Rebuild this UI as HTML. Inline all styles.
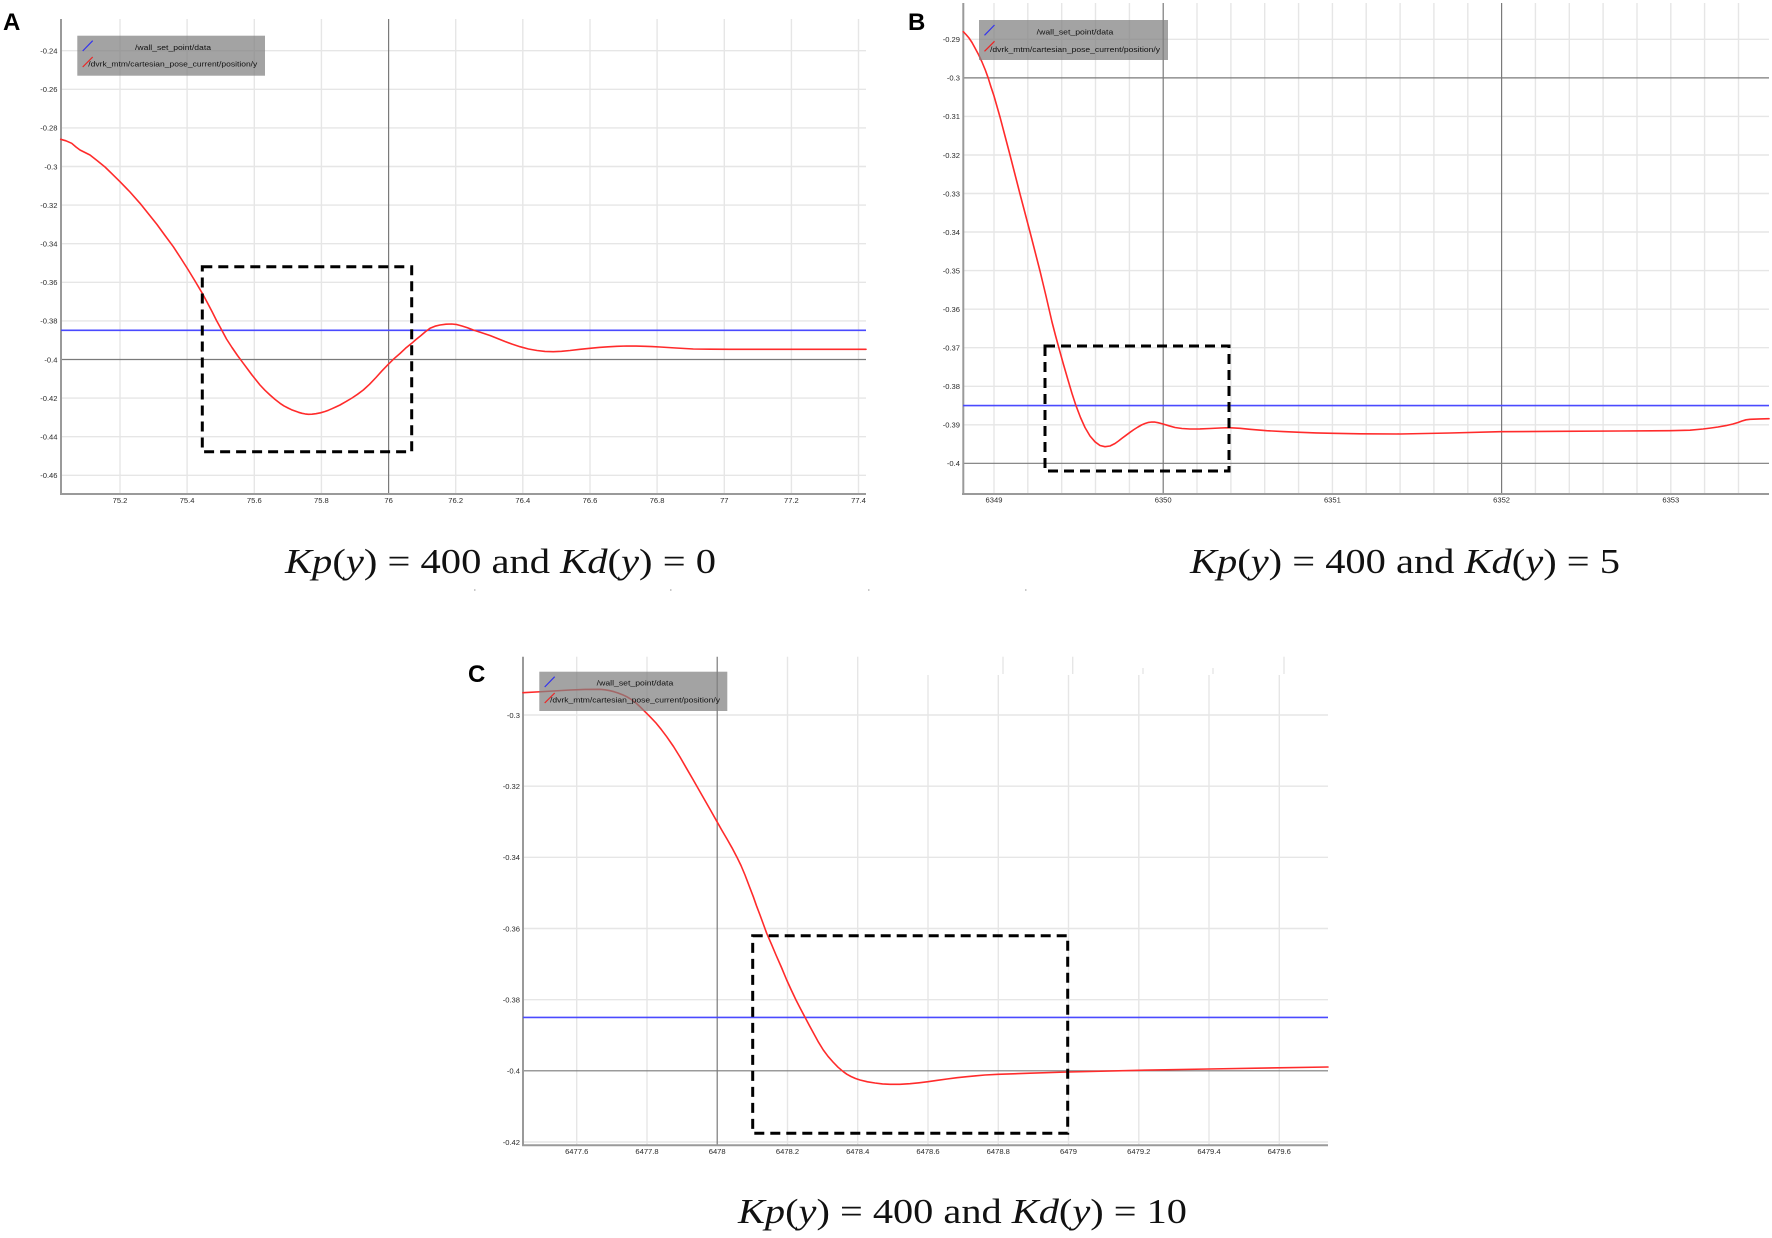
<!DOCTYPE html>
<html>
<head>
<meta charset="utf-8">
<style>
html,body{margin:0;padding:0;background:#fff;}
svg{display:block;}
.g{stroke:#e6e6e6;stroke-width:1.4;}
.d{stroke:#7a7a7a;stroke-width:1.2;}
.ax{stroke:#9a9a9a;stroke-width:2;}
.tk{font-family:"Liberation Sans",sans-serif;font-size:7.6px;fill:#2a2a2a;}
.lg{font-family:"Liberation Sans",sans-serif;font-size:7.5px;fill:#111;}
.cap{font-family:"Liberation Serif",serif;font-size:35px;fill:#111;}
.it{font-style:italic;}
.let{font-family:"Liberation Sans",sans-serif;font-weight:bold;font-size:24px;fill:#000;}
.red{fill:none;stroke:#ff2b2b;stroke-width:1.6;stroke-linejoin:round;stroke-linecap:round;}
.blue{stroke:#4a4aff;stroke-width:1.6;}
.box{fill:none;stroke:#000;stroke-width:3;stroke-dasharray:10 6;}
.leg{fill:#808080;opacity:0.72;}
</style>
</head>
<body>
<svg width="1772" height="1238" viewBox="0 0 1772 1238" xmlns="http://www.w3.org/2000/svg">
<rect width="1772" height="1238" fill="#fff"/>

<!-- ================= PANEL A ================= -->
<g>
<line class="g" x1="61" x2="866" y1="50.7" y2="50.7"/>
<line class="g" x1="61" x2="866" y1="89.3" y2="89.3"/>
<line class="g" x1="61" x2="866" y1="127.9" y2="127.9"/>
<line class="g" x1="61" x2="866" y1="166.5" y2="166.5"/>
<line class="g" x1="61" x2="866" y1="205.1" y2="205.1"/>
<line class="g" x1="61" x2="866" y1="243.7" y2="243.7"/>
<line class="g" x1="61" x2="866" y1="282.3" y2="282.3"/>
<line class="g" x1="61" x2="866" y1="320.9" y2="320.9"/>
<line class="g" x1="61" x2="866" y1="398.1" y2="398.1"/>
<line class="g" x1="61" x2="866" y1="436.7" y2="436.7"/>
<line class="g" x1="61" x2="866" y1="475.3" y2="475.3"/>
<line class="g" x1="120" x2="120" y1="19" y2="494"/>
<line class="g" x1="187.1" x2="187.1" y1="19" y2="494"/>
<line class="g" x1="254.3" x2="254.3" y1="19" y2="494"/>
<line class="g" x1="321.4" x2="321.4" y1="19" y2="494"/>
<line class="g" x1="455.7" x2="455.7" y1="19" y2="494"/>
<line class="g" x1="522.8" x2="522.8" y1="19" y2="494"/>
<line class="g" x1="590" x2="590" y1="19" y2="494"/>
<line class="g" x1="657.1" x2="657.1" y1="19" y2="494"/>
<line class="g" x1="724.3" x2="724.3" y1="19" y2="494"/>
<line class="g" x1="791.4" x2="791.4" y1="19" y2="494"/>
<line class="g" x1="858.5" x2="858.5" y1="19" y2="494"/>
<line class="d" x1="388.6" x2="388.6" y1="19" y2="494"/>
<line class="d" x1="61" x2="866" y1="359.5" y2="359.5"/>
<line class="ax" x1="61" x2="61" y1="19" y2="495"/>
<line class="ax" x1="60" x2="866" y1="494" y2="494"/>
<g class="tk" text-anchor="end">
<text x="57.5" y="53.5">-0.24</text>
<text x="57.5" y="92.1">-0.26</text>
<text x="57.5" y="130.7">-0.28</text>
<text x="57.5" y="169.3">-0.3</text>
<text x="57.5" y="207.9">-0.32</text>
<text x="57.5" y="246.5">-0.34</text>
<text x="57.5" y="285.1">-0.36</text>
<text x="57.5" y="323.7">-0.38</text>
<text x="57.5" y="362.3">-0.4</text>
<text x="57.5" y="400.9">-0.42</text>
<text x="57.5" y="439.5">-0.44</text>
<text x="57.5" y="478.1">-0.46</text>
</g>
<g class="tk" text-anchor="middle">
<text x="120" y="503">75.2</text>
<text x="187.1" y="503">75.4</text>
<text x="254.3" y="503">75.6</text>
<text x="321.4" y="503">75.8</text>
<text x="388.6" y="503">76</text>
<text x="455.7" y="503">76.2</text>
<text x="522.8" y="503">76.4</text>
<text x="590" y="503">76.6</text>
<text x="657.1" y="503">76.8</text>
<text x="724.3" y="503">77</text>
<text x="791.4" y="503">77.2</text>
<text x="858.5" y="503">77.4</text>
</g>
<line class="blue" x1="61" x2="866" y1="330.3" y2="330.3"/>
<polyline class="red" points="60.7,139.3 66,140.8 71.7,143.3 76,147 80,150 85,152.5 90,155 97,160.5 105,167 112,173.8 120,181.7 130,192 140,203.3 149,214.5 157,224.5 165,235.5 173.3,246.7 181,258.5 188,269.5 195,281 202.3,293.3 207,302 212,311.5 216.5,320.5 221.7,330 226.5,339 232,347.5 237.5,355.5 243.3,363.3 248,369.6 252,375 256,380 260,385 265,390.3 270,395 275,399.4 280,403.3 284,405.9 288,408 291.5,409.7 295,411 298.5,412.3 302,413.3 305,413.9 308.3,414.3 312,414.2 316,413.7 320.5,412.8 325,411.5 328.5,410.2 332,408.7 336,406.9 340,405 346,401.6 352,398 357.5,394.3 363.3,390 369.5,384.3 376,377.5 382,370.8 388.3,364.3 394,358.7 400,353.5 405.5,348.3 411.7,343.3 416,339.5 421,335.5 425.5,331.6 430,328.3 435,326.2 440,325 446,324.2 451.7,324 457,324.6 462,326 467.5,327.8 473.3,330 481,332.5 490,335.5 497.5,338.5 505,341.5 512.5,344.3 520,346.7 528.5,349 537,350.5 545,351.4 553.3,351.7 561.5,351.3 570,350.5 580,349.3 590,348.3 599,347.4 608,346.8 617,346.3 626.7,346 636,346.1 645,346.3 652,346.6 660,347 676,348 693.3,349 710,349.2 730,349.3 866,349.3"/>
<rect class="box" x="202.3" y="266.7" width="209.4" height="185"/>
<rect class="leg" x="77.3" y="35.7" width="187.7" height="40"/>
<line x1="82.7" y1="51" x2="92.7" y2="40.7" stroke="#3333ee" stroke-width="1.2"/>
<line x1="82.7" y1="67" x2="92.7" y2="57" stroke="#ee2222" stroke-width="1.2"/>
<text class="lg" x="135" y="50" textLength="76" lengthAdjust="spacingAndGlyphs">/wall_set_point/data</text>
<text class="lg" x="88.3" y="66.7" textLength="169" lengthAdjust="spacingAndGlyphs">/dvrk_mtm/cartesian_pose_current/position/y</text>
<text class="let" x="3" y="30">A</text>
<text class="cap" x="285" y="573" textLength="431" lengthAdjust="spacingAndGlyphs"><tspan class="it">Kp</tspan>(<tspan class="it">y</tspan>) = 400 and <tspan class="it">Kd</tspan>(<tspan class="it">y</tspan>) = 0</text>
</g>

<!-- ================= PANEL B ================= -->
<g>
<line class="g" x1="963" x2="1769" y1="39.3" y2="39.3"/>
<line class="g" x1="963" x2="1769" y1="116.4" y2="116.4"/>
<line class="g" x1="963" x2="1769" y1="155" y2="155"/>
<line class="g" x1="963" x2="1769" y1="193.5" y2="193.5"/>
<line class="g" x1="963" x2="1769" y1="232" y2="232"/>
<line class="g" x1="963" x2="1769" y1="270.6" y2="270.6"/>
<line class="g" x1="963" x2="1769" y1="309.2" y2="309.2"/>
<line class="g" x1="963" x2="1769" y1="347.7" y2="347.7"/>
<line class="g" x1="963" x2="1769" y1="386.3" y2="386.3"/>
<line class="g" x1="963" x2="1769" y1="424.8" y2="424.8"/>
<line class="g" x1="994" x2="994" y1="3" y2="494"/>
<line class="g" x1="1027.8" x2="1027.8" y1="3" y2="494"/>
<line class="g" x1="1061.7" x2="1061.7" y1="3" y2="494"/>
<line class="g" x1="1095.5" x2="1095.5" y1="3" y2="494"/>
<line class="g" x1="1129.4" x2="1129.4" y1="3" y2="494"/>
<line class="g" x1="1197" x2="1197" y1="3" y2="494"/>
<line class="g" x1="1230.9" x2="1230.9" y1="3" y2="494"/>
<line class="g" x1="1264.7" x2="1264.7" y1="3" y2="494"/>
<line class="g" x1="1298.6" x2="1298.6" y1="3" y2="494"/>
<line class="g" x1="1332.4" x2="1332.4" y1="3" y2="494"/>
<line class="g" x1="1366.2" x2="1366.2" y1="3" y2="494"/>
<line class="g" x1="1400.1" x2="1400.1" y1="3" y2="494"/>
<line class="g" x1="1433.9" x2="1433.9" y1="3" y2="494"/>
<line class="g" x1="1467.8" x2="1467.8" y1="3" y2="494"/>
<line class="g" x1="1535.4" x2="1535.4" y1="3" y2="494"/>
<line class="g" x1="1569.3" x2="1569.3" y1="3" y2="494"/>
<line class="g" x1="1603.1" x2="1603.1" y1="3" y2="494"/>
<line class="g" x1="1637" x2="1637" y1="3" y2="494"/>
<line class="g" x1="1670.8" x2="1670.8" y1="3" y2="494"/>
<line class="g" x1="1704.6" x2="1704.6" y1="3" y2="494"/>
<line class="g" x1="1738.5" x2="1738.5" y1="3" y2="494"/>
<line class="d" x1="1163.2" x2="1163.2" y1="3" y2="494"/>
<line class="d" x1="1501.6" x2="1501.6" y1="3" y2="494"/>
<line class="d" x1="963" x2="1769" y1="77.9" y2="77.9"/>
<line class="d" x1="963" x2="1769" y1="463.3" y2="463.3"/>
<line class="ax" x1="963.3" x2="963.3" y1="3" y2="495"/>
<line class="ax" x1="962" x2="1769" y1="494" y2="494"/>
<g class="tk" text-anchor="end">
<text x="960" y="42.1">-0.29</text>
<text x="960" y="80.7">-0.3</text>
<text x="960" y="119.2">-0.31</text>
<text x="960" y="157.8">-0.32</text>
<text x="960" y="196.3">-0.33</text>
<text x="960" y="234.8">-0.34</text>
<text x="960" y="273.4">-0.35</text>
<text x="960" y="312">-0.36</text>
<text x="960" y="350.5">-0.37</text>
<text x="960" y="389.1">-0.38</text>
<text x="960" y="427.6">-0.39</text>
<text x="960" y="466.1">-0.4</text>
</g>
<g class="tk" text-anchor="middle">
<text x="994" y="502.5">6349</text>
<text x="1163.2" y="502.5">6350</text>
<text x="1332.4" y="502.5">6351</text>
<text x="1501.6" y="502.5">6352</text>
<text x="1670.8" y="502.5">6353</text>
</g>
<line class="blue" x1="963" x2="1769" y1="405.6" y2="405.6"/>
<polyline class="red" points="963.3,31.7 966,34.5 969,38 972,42.5 975,48 978.5,54.5 982,62 985.3,70 988.3,78.3 991,87 994,96 997,106.5 1000,117 1005,136 1010,155 1015,174.5 1020,194 1025,213 1030,232 1035,251.5 1040,271 1043,283.5 1046,296 1049,309 1052,322 1055.5,335.5 1059,348.3 1063.5,364.5 1068,380 1072,393.5 1076,405.7 1080.5,417.5 1085,427.5 1090,436 1095,441.8 1100,445.5 1105,446.7 1110,446 1115,443.5 1118.5,441 1122,438.3 1126,435.3 1130,432.3 1134,429.5 1138,427 1141.5,425 1145,423.5 1148.5,422.4 1151.7,422 1155,422.1 1158,422.7 1163,424 1169,425.8 1175,427.5 1182,428.5 1190,429 1200,428.9 1210,428.5 1220,428 1229,427.7 1240,428.3 1250,429.3 1266.7,430.7 1283,431.6 1300,432.3 1316,432.9 1333,433.3 1360,433.8 1400,434 1450,433 1500,431.7 1560,431.3 1620,431 1670,430.7 1690,430.2 1703,429 1711,428 1718,427 1726,425.6 1733,424 1738,422.5 1742,421 1746,419.8 1750,419.3 1760,418.9 1769,418.7"/>
<rect class="box" x="1045" y="346" width="184" height="125"/>
<rect class="leg" x="979" y="20" width="189" height="40"/>
<line x1="984.5" y1="35.3" x2="994.5" y2="25" stroke="#3333ee" stroke-width="1.2"/>
<line x1="984.5" y1="51.3" x2="994.5" y2="41.3" stroke="#ee2222" stroke-width="1.2"/>
<text class="lg" x="1036.7" y="34.3" textLength="76.6" lengthAdjust="spacingAndGlyphs">/wall_set_point/data</text>
<text class="lg" x="990" y="52" textLength="170" lengthAdjust="spacingAndGlyphs">/dvrk_mtm/cartesian_pose_current/position/y</text>
<text class="let" x="908" y="30">B</text>
<text class="cap" x="1190" y="573" textLength="430" lengthAdjust="spacingAndGlyphs"><tspan class="it">Kp</tspan>(<tspan class="it">y</tspan>) = 400 and <tspan class="it">Kd</tspan>(<tspan class="it">y</tspan>) = 5</text>
</g>

<!-- ================= PANEL C ================= -->
<g>
<line class="g" x1="523" x2="1328" y1="715" y2="715"/>
<line class="g" x1="523" x2="1328" y1="786.2" y2="786.2"/>
<line class="g" x1="523" x2="1328" y1="857.3" y2="857.3"/>
<line class="g" x1="523" x2="1328" y1="928.5" y2="928.5"/>
<line class="g" x1="523" x2="1328" y1="999.7" y2="999.7"/>
<line class="g" x1="523" x2="1328" y1="1142" y2="1142"/>
<line class="g" x1="576.7" x2="576.7" y1="656.7" y2="1145"/>
<line class="g" x1="647" x2="647" y1="656.7" y2="1145"/>
<line class="g" x1="787.5" x2="787.5" y1="656.7" y2="1145"/>
<line class="g" x1="857.7" x2="857.7" y1="656.7" y2="1145"/>
<line class="g" x1="928" x2="928" y1="675" y2="1145"/>
<line class="g" x1="998.3" x2="998.3" y1="675" y2="1145"/>
<line class="g" x1="1068.5" x2="1068.5" y1="675" y2="1145"/>
<line class="g" x1="1138.8" x2="1138.8" y1="675" y2="1145"/>
<line class="g" x1="1209" x2="1209" y1="675" y2="1145"/>
<line class="g" x1="1279.3" x2="1279.3" y1="675" y2="1145"/>
<line class="g" x1="1003" x2="1003" y1="656.7" y2="674"/>
<line class="g" x1="1072.7" x2="1072.7" y1="656.7" y2="674"/>
<line class="g" x1="1143" x2="1143" y1="668" y2="674"/>
<line class="g" x1="1213" x2="1213" y1="668" y2="674"/>
<line class="g" x1="1284" x2="1284" y1="656.7" y2="674"/>
<line class="d" x1="717.2" x2="717.2" y1="656.7" y2="1145"/>
<line class="d" x1="523" x2="1328" y1="1070.8" y2="1070.8"/>
<line class="ax" x1="523" x2="523" y1="656.7" y2="1146"/>
<line class="ax" x1="522" x2="1328" y1="1145.3" y2="1145.3"/>
<g class="tk" text-anchor="end">
<text x="520" y="717.8">-0.3</text>
<text x="520" y="789">-0.32</text>
<text x="520" y="860.1">-0.34</text>
<text x="520" y="931.3">-0.36</text>
<text x="520" y="1002.5">-0.38</text>
<text x="520" y="1073.6">-0.4</text>
<text x="520" y="1144.8">-0.42</text>
</g>
<g class="tk" text-anchor="middle">
<text x="576.7" y="1154">6477.6</text>
<text x="647" y="1154">6477.8</text>
<text x="717.2" y="1154">6478</text>
<text x="787.5" y="1154">6478.2</text>
<text x="857.7" y="1154">6478.4</text>
<text x="928" y="1154">6478.6</text>
<text x="998.3" y="1154">6478.8</text>
<text x="1068.5" y="1154">6479</text>
<text x="1138.8" y="1154">6479.2</text>
<text x="1209" y="1154">6479.4</text>
<text x="1279.3" y="1154">6479.6</text>
</g>
<line class="blue" x1="523" x2="1328" y1="1017.4" y2="1017.4"/>
<polyline class="red" points="523,692.7 545,691.5 570,690 585,689.4 600,689.3 605,689.8 610,690.7 614,691.7 618,693 622.5,694.7 626.7,696.7 631.5,699.6 636,703 640.5,707.2 645,711.7 650.5,717.2 656,723 661.5,729.8 666.7,736.7 673.5,746.5 680,757 686.5,768.3 693.3,780 699,790 705,800.5 711,811 717,821.7 722,830.5 727,839 732,847.8 736.7,856.7 741,865.5 745,875 749,885.5 753.3,896.7 756.5,905.8 760,915 763.3,924 766.7,933.3 771.5,944.3 776,955 781.5,967.5 786.7,980 791.5,990.5 796,1000 800.5,1008.8 805,1017.3 809.5,1025.8 814,1034 818.5,1042.2 823.3,1050 828,1056.3 833,1062 838,1067.2 843.3,1071.7 847,1074.3 851,1076.5 855.5,1078.5 860,1080 867.5,1081.8 875,1083 882.5,1083.9 890,1084.3 900,1084.3 910,1083.7 919,1082.8 928,1081.7 937.5,1080.3 947,1079 957,1077.7 966.7,1076.7 976,1075.8 985,1075 998,1074.3 1030,1073.2 1068,1072 1139,1070.3 1209,1069 1328,1067"/>
<rect class="box" x="752.7" y="935.7" width="315" height="197.6"/>
<rect class="leg" x="539.3" y="671.7" width="188" height="39.3"/>
<line x1="544.7" y1="687" x2="554.7" y2="676.7" stroke="#3333ee" stroke-width="1.2"/>
<line x1="544.7" y1="703" x2="554.7" y2="693" stroke="#ee2222" stroke-width="1.2"/>
<text class="lg" x="596.7" y="685.4" textLength="76.6" lengthAdjust="spacingAndGlyphs">/wall_set_point/data</text>
<text class="lg" x="550" y="702.7" textLength="170" lengthAdjust="spacingAndGlyphs">/dvrk_mtm/cartesian_pose_current/position/y</text>
<text class="let" x="468" y="682">C</text>
<text class="cap" x="738" y="1223" textLength="449" lengthAdjust="spacingAndGlyphs"><tspan class="it">Kp</tspan>(<tspan class="it">y</tspan>) = 400 and <tspan class="it">Kd</tspan>(<tspan class="it">y</tspan>) = 10</text>
</g>

<g fill="#c8c8c8">
<rect x="474" y="589" width="1.5" height="2"/>
<rect x="670" y="589" width="1.5" height="2"/>
<rect x="868" y="589" width="1.5" height="2"/>
<rect x="1025" y="589" width="1.5" height="2"/>
</g>
</svg>
</body>
</html>
